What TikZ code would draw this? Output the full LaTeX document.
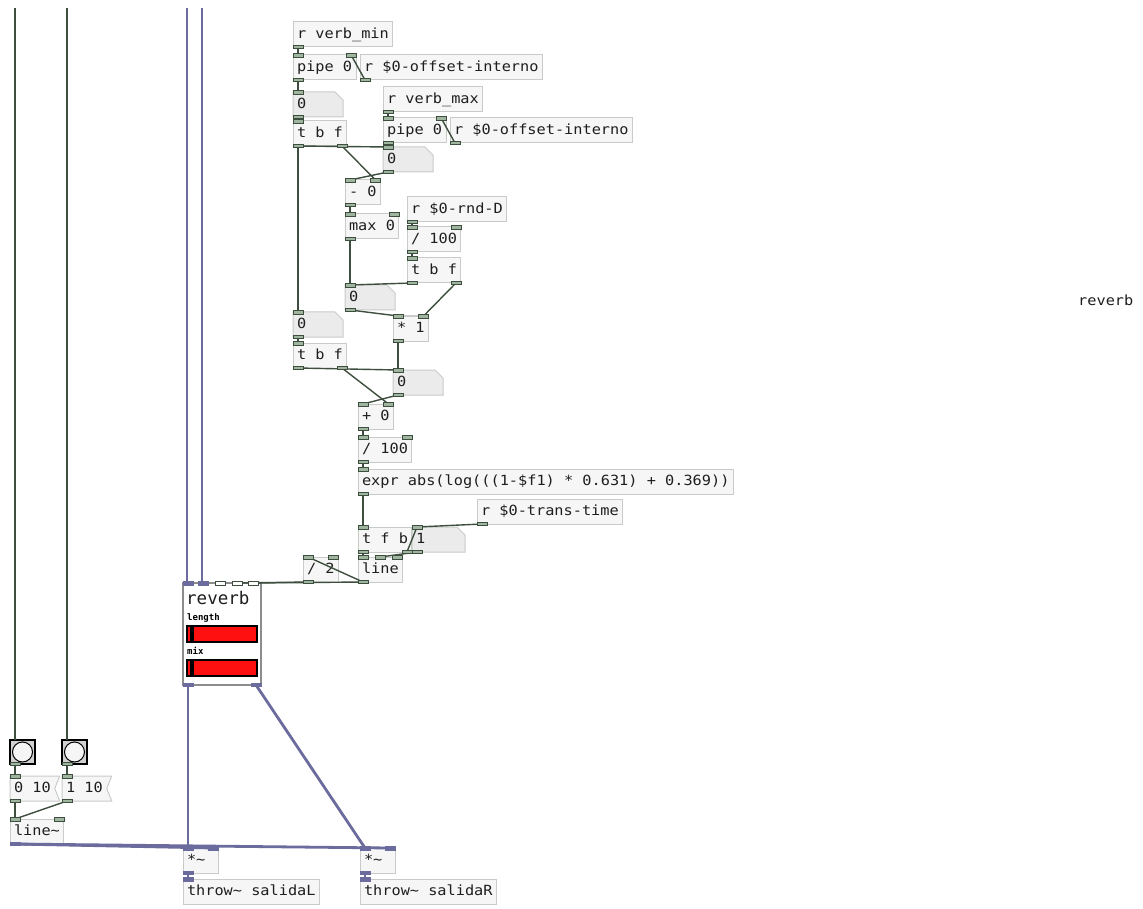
\documentclass[tikz,border=0pt]{standalone}
\usepackage{fontspec}
\newfontfamily\pdmono{DejaVu Sans Mono}[FakeStretch=1.09]
\newfontfamily\pdmonoplain{DejaVu Sans Mono}
\usepackage{tikz}
\usetikzlibrary{backgrounds,calc}
\usepackage{xcolor}
\definecolor{boxfill}{HTML}{F5F6F5}
\definecolor{boxline}{HTML}{C9CBC9}
\definecolor{numfill}{HTML}{EBEBEB}
\definecolor{pdtext}{HTML}{1E1E1E}
\definecolor{wirecol}{HTML}{3E4E3E}
\definecolor{portfill}{HTML}{9FB59F}
\definecolor{sigcol}{HTML}{6B6B9E}
\definecolor{gopline}{HTML}{8C8C8C}
\definecolor{sliderred}{HTML}{FF1010}

\newcommand{\pdfont}{\pdmono\fontsize{14}{16}\selectfont}
\newcommand{\inL}[2][port]{\draw[#1] ($(#2.north west)+(0,-1.5)$) rectangle ++(10,3.5);}
\newcommand{\inR}[2][port]{\draw[#1] ($(#2.north east)+(-10,-1.5)$) rectangle ++(10,3.5);}
\newcommand{\outL}[2][port]{\draw[#1] ($(#2.south west)+(0,1.5)$) rectangle ++(10,-3.5);}
\newcommand{\outR}[2][port]{\draw[#1] ($(#2.south east)+(-10,1.5)$) rectangle ++(10,-3.5);}

\begin{document}
\begin{tikzpicture}[x=1pt, y=-1pt,
  obj/.style={draw=boxline, fill=boxfill, line width=1pt, anchor=north west, minimum height=25pt,
    inner xsep=4pt, inner ysep=0pt, outer sep=0pt, font=\pdfont, text=pdtext, text height=10pt, text depth=2.5pt},
  atom/.style={obj, draw=none, fill=none},
  numshape/.style={fill=numfill, draw=boxline, line width=1pt},
  msgshape/.style={fill=boxfill, draw=boxline, line width=1pt},
  port/.style={draw=wirecol, fill=portfill, line width=0.7pt},
  sigport/.style={draw=sigcol, fill=sigcol, line width=0.7pt},
  wire/.style={draw=wirecol, line width=1.4pt},
  sigwire/.style={draw=sigcol, line width=2.8pt},
  bng/.style={draw=black, fill=black!18, line width=2pt, anchor=north west, minimum width=25pt, minimum height=24pt, inner sep=0pt, outer sep=0pt},
  gop/.style={draw=gopline, fill=white, line width=1.2pt, anchor=north west, minimum width=78pt, minimum height=102pt, inner sep=0pt, outer sep=0pt},
  slider/.style={draw=black, fill=sliderred, line width=1.2pt, anchor=north west, minimum width=70pt, minimum height=16pt, inner sep=0pt, outer sep=0pt},
  lbl/.style={anchor=west, inner sep=0pt, font=\pdmonoplain\bfseries\fontsize{9}{10}\selectfont}]
  \useasboundingbox (0,0) rectangle (1143,909);
  \begin{scope}[on background layer]
    \fill[white] (0,0) rectangle (1143,909);
  \end{scope}

  % min / max receivers
  \node[obj] (verbmin) at (293,22) {r verb\_min};
  \node[obj] (pipeA) at (293,55) {pipe 0};
  \node[obj] (offA) at (360,55) {r \$0-offset-interno};
  \node[atom, text width=42pt] (numA) at (293,92) {0};
  \node[obj] (tbfA) at (293,121) {t b f};
  \node[obj] (verbmax) at (383,87) {r verb\_max};
  \node[obj] (pipeB) at (383,118) {pipe 0};
  \node[obj] (offB) at (450,118) {r \$0-offset-interno};
  \node[atom, text width=42pt] (numB) at (383,147) {0};

  % range and random depth
  \node[obj] (minus) at (345,180) {- 0};
  \node[obj] (maxo) at (345,214) {max 0};
  \node[obj] (rndD) at (407,197) {r \$0-rnd-D};
  \node[obj] (divA) at (407,227) {/ 100};
  \node[obj] (tbfB) at (407,258) {t b f};
  \node[atom, text width=42pt] (numC) at (345,285) {0};
  \node[obj] (mul) at (393,316) {* 1};
  \node[atom, text width=42pt] (numD) at (293,312) {0};
  \node[obj] (tbfC) at (293,343) {t b f};
  \node[atom, text width=42pt] (numE) at (393,370) {0};
  \node[obj] (plus) at (358,404) {+ 0};
  \node[obj] (divB) at (358,437) {/ 100};
  \node[obj] (expr) at (358,469) {expr abs(log(((1-\$f1) * 0.631) + 0.369))};

  % ramp
  \node[obj] (trans) at (477,499) {r \$0-trans-time};
  \node[obj] (tfb) at (358,527) {t f b};
  \node[atom, text width=45pt] (numT) at (412,527) {1};
  \node[obj] (half) at (303,557) {/ 2};
  \node[obj] (ramp) at (358,557) {line};

  % reverb abstraction
  \node[gop] (reverb) at (183,583) {};
  \node[anchor=west, inner sep=0pt, font=\pdmonoplain\fontsize{17.5}{20}\selectfont, text=pdtext] (revtitle) at (186,598) {reverb};
  \node[lbl] (lenlabel) at (187,618) {length};
  \node[slider] (lenslider) at (187,626) {};
  \fill[black] ($(lenslider.north west)+(3,0)$) rectangle ++(4,16);
  \node[lbl] (mixlabel) at (187,651) {mix};
  \node[slider] (mixslider) at (187,660) {};
  \fill[black] ($(mixslider.north west)+(3,0)$) rectangle ++(4,16);

  % envelope and outputs
  \node[bng] (bangA) at (10,740) {};
  \node[bng] (bangB) at (62,740) {};
  \draw[fill=black!4, line width=1pt] (bangA.center) circle (10pt);
  \draw[fill=black!4, line width=1pt] (bangB.center) circle (10pt);
  \node[atom] (msgA) at (10,776) {0 10};
  \node[atom] (msgB) at (62,776) {1 10};
  \node[obj] (sigline) at (10,819) {line\textasciitilde};
  \node[obj, text width=27pt] (mulL) at (183,848) {*\textasciitilde};
  \node[obj, text width=27pt] (mulR) at (360,848) {*\textasciitilde};
  \node[obj] (throwL) at (183,879) {throw\textasciitilde{} salidaL};
  \node[obj] (throwR) at (360,879) {throw\textasciitilde{} salidaR};

  \node[anchor=west, inner sep=0pt, font=\pdfont, text=pdtext] (revcomment) at (1078,300) {reverb};

  % box outlines of atoms and messages
  \begin{scope}[on background layer]
    \foreach \n in {numA,numB,numC,numD,numE,numT}
      \filldraw[numshape] (\n.north west) -- ($(\n.north east)+(-8,0)$) -- ($(\n.north east)+(0,8)$) -- (\n.south east) -- (\n.south west) -- cycle;
    \foreach \n in {msgA,msgB}
      \filldraw[msgshape] (\n.north west) -- ($(\n.north east)+(5,0)$) -- (\n.east) -- ($(\n.south east)+(5,0)$) -- (\n.south west) -- cycle;
  \end{scope}

  % free ends from above
  \coordinate (topA) at (15,8);
  \coordinate (topB) at (67,8);
  \coordinate (sigtopA) at (187,8);
  \coordinate (sigtopB) at (202,8);

  % control wires
  \draw[wire] (topA) -- ($(bangA.north west)+(5,0)$);
  \draw[wire] (topB) -- ($(bangB.north west)+(5,0)$);
  \draw[wire] ($(verbmin.south west)+(5,0)$) -- ($(pipeA.north west)+(5,0)$);
  \draw[wire] ($(offA.south west)+(5,0)$) -- ($(pipeA.north east)+(-5,0)$);
  \draw[wire] ($(pipeA.south west)+(5,0)$) -- ($(numA.north west)+(5,0)$);
  \draw[wire] ($(numA.south west)+(5,0)$) -- ($(tbfA.north west)+(5,0)$);
  \draw[wire] ($(verbmax.south west)+(5,0)$) -- ($(pipeB.north west)+(5,0)$);
  \draw[wire] ($(offB.south west)+(5,0)$) -- ($(pipeB.north east)+(-5,0)$);
  \draw[wire] ($(pipeB.south west)+(5,0)$) -- ($(numB.north west)+(5,0)$);
  \draw[wire] ($(tbfA.south west)+(5,0)$) -- ($(numB.north west)+(5,0)$);
  \draw[wire] ($(tbfA.south west)+(5,0)$) -- ($(numD.north west)+(5,0)$);
  \draw[wire] ($(tbfA.south east)+(-5,0)$) -- ($(minus.north east)+(-5,0)$);
  \draw[wire] ($(numB.south west)+(5,0)$) -- ($(minus.north west)+(5,0)$);
  \draw[wire] ($(minus.south west)+(5,0)$) -- ($(maxo.north west)+(5,0)$);
  \draw[wire] ($(maxo.south west)+(5,0)$) -- ($(numC.north west)+(5,0)$);
  \draw[wire] ($(rndD.south west)+(5,0)$) -- ($(divA.north west)+(5,0)$);
  \draw[wire] ($(divA.south west)+(5,0)$) -- ($(tbfB.north west)+(5,0)$);
  \draw[wire] ($(tbfB.south west)+(5,0)$) -- ($(numC.north west)+(5,0)$);
  \draw[wire] ($(tbfB.south east)+(-5,0)$) -- ($(mul.north east)+(-5,0)$);
  \draw[wire] ($(numC.south west)+(5,0)$) -- ($(mul.north west)+(5,0)$);
  \draw[wire] ($(numD.south west)+(5,0)$) -- ($(tbfC.north west)+(5,0)$);
  \draw[wire] ($(mul.south west)+(5,0)$) -- ($(numE.north west)+(5,0)$);
  \draw[wire] ($(tbfC.south west)+(5,0)$) -- ($(numE.north west)+(5,0)$);
  \draw[wire] ($(tbfC.south east)+(-5,0)$) -- ($(plus.north east)+(-5,0)$);
  \draw[wire] ($(numE.south west)+(5,0)$) -- ($(plus.north west)+(5,0)$);
  \draw[wire] ($(plus.south west)+(5,0)$) -- ($(divB.north west)+(5,0)$);
  \draw[wire] ($(divB.south west)+(5,0)$) -- ($(expr.north west)+(5,0)$);
  \draw[wire] ($(expr.south west)+(5,0)$) -- ($(tfb.north west)+(5,0)$);
  \draw[wire] ($(trans.south west)+(5,0)$) -- ($(numT.north west)+(5,0)$);
  \draw[wire] ($(tfb.south east)+(-5,0)$) -- ($(numT.north west)+(5,0)$);
  \draw[wire] ($(tfb.south west)+(5,0)$) -- ($(ramp.north west)+(5,0)$);
  \draw[wire] ($(numT.south west)+(5,0)$) -- (ramp.north);
  \draw[wire] ($(ramp.south west)+(5,0)$) -- ($(half.north west)+(5,0)$);
  \draw[wire] ($(ramp.south west)+(5,0)$) -- ($(reverb.north west)+(70,0)$);
  \draw[wire] ($(half.south west)+(5,0)$) -- ($(reverb.north west)+(54,0)$);
  \draw[wire] ($(bangA.south west)+(5,0)$) -- ($(msgA.north west)+(5,0)$);
  \draw[wire] ($(bangB.south west)+(5,0)$) -- ($(msgB.north west)+(5,0)$);
  \draw[wire] ($(msgA.south west)+(5,0)$) -- ($(sigline.north west)+(5,0)$);
  \draw[wire] ($(msgB.south west)+(5,0)$) -- ($(sigline.north west)+(5,0)$);

  % signal wires
  \draw[sigwire] (sigtopA) -- ($(reverb.north west)+(4,0)$);
  \draw[sigwire] (sigtopB) -- ($(reverb.north west)+(19,0)$);
  \draw[sigwire] ($(reverb.south west)+(5,0)$) -- ($(mulL.north west)+(5,0)$);
  \draw[sigwire] ($(reverb.south east)+(-5,0)$) -- ($(mulR.north west)+(5,0)$);
  \draw[sigwire] ($(sigline.south west)+(5,0)$) -- ($(mulL.north east)+(-5,0)$);
  \draw[sigwire] ($(sigline.south west)+(5,0)$) -- ($(mulR.north east)+(-5,0)$);
  \draw[sigwire] ($(mulL.south west)+(5,0)$) -- ($(throwL.north west)+(5,0)$);
  \draw[sigwire] ($(mulR.south west)+(5,0)$) -- ($(throwR.north west)+(5,0)$);

  % inlets and outlets
  \foreach \n in {pipeA,numA,tbfA,pipeB,numB,minus,maxo,divA,tbfB,numC,mul,numD,tbfC,numE,plus,divB,expr,tfb,numT,half,ramp,msgA,msgB,sigline}
    {\inL{\n}}
  \foreach \n in {pipeA,pipeB,minus,maxo,divA,mul,plus,divB,half,ramp,sigline}
    {\inR{\n}}
  \foreach \n in {verbmin,pipeA,offA,numA,tbfA,verbmax,pipeB,offB,numB,minus,maxo,rndD,divA,tbfB,numC,mul,numD,tbfC,numE,plus,divB,expr,trans,tfb,numT,half,ramp,msgA,msgB,bangA,bangB}
    {\outL{\n}}
  \foreach \n in {tbfA,tbfB,tbfC,tfb}
    {\outR{\n}}
  \draw[port] ($(ramp.north)+(-5,-1.5)$) rectangle ++(10,3.5);
  \foreach \dx in {0,15}
    \draw[sigport] ($(reverb.north west)+(\dx,-1.5)$) rectangle ++(10,3.5);
  \foreach \dx in {32,49,65}
    \draw[port, fill=white] ($(reverb.north west)+(\dx,-1.5)$) rectangle ++(10,3.5);
  \outL[sigport]{reverb}
  \outR[sigport]{reverb}
  \foreach \n in {mulL,mulR}
    {\inL[sigport]{\n} \inR[sigport]{\n} \outL[sigport]{\n}}
  \outL[sigport]{sigline}
  \inL[sigport]{throwL}
  \inL[sigport]{throwR}
\end{tikzpicture}
\end{document}
